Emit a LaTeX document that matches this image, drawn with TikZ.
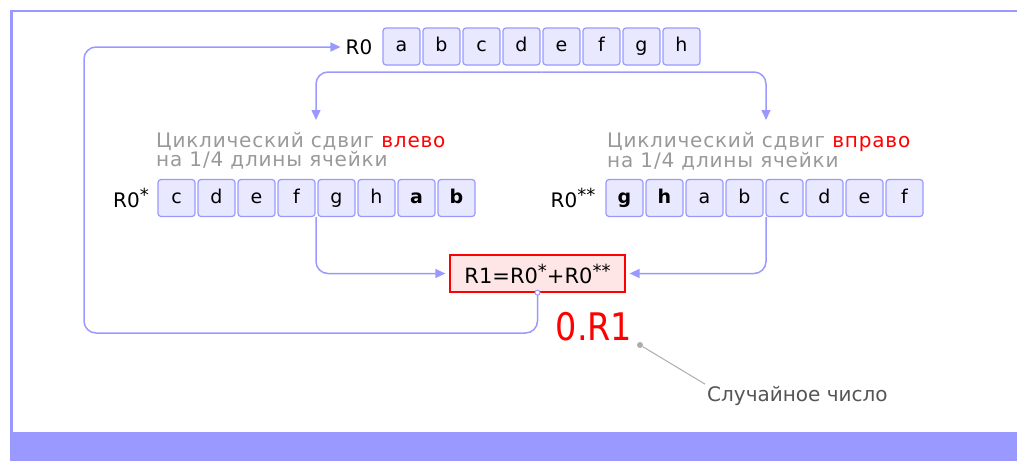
\documentclass[tikz,border=0pt]{standalone}
\usepackage{fontspec}
\setmainfont{DejaVu Sans}
\newfontfamily\spacedfont[LetterSpace=4]{DejaVu Sans}
\usetikzlibrary{arrows.meta}
\definecolor{frameblue}{HTML}{9999FF}
\definecolor{cellfill}{HTML}{E8E8FF}
\definecolor{linkblue}{HTML}{9999FF}
\definecolor{boxpink}{HTML}{FFE6E6}
\definecolor{notegray}{HTML}{999999}
\definecolor{textgray}{HTML}{555555}
\tikzset{
  cell/.style={draw=linkblue, fill=cellfill, rounded corners=3pt, line width=1.2pt,
    minimum width=37pt, minimum height=37pt, inner sep=0pt,
    text height=14pt, text depth=4pt,
    font=\fontsize{19}{21}\selectfont, text=black},
  reglabel/.style={font=\fontsize{20}{22}\selectfont, inner sep=0pt},
  link/.style={draw=linkblue, line width=1.5pt, rounded corners=12pt,
    -{Triangle[length=10pt,width=9pt]}},
  shifttext/.style={font=\spacedfont\fontsize{20}{19}\selectfont, text=notegray,
    align=left, inner sep=0pt, anchor=north west},
}
\newcommand{\sstar}[1]{\raisebox{6pt}{\fontsize{18}{18}\selectfont #1}}
\begin{document}
\begin{tikzpicture}[x=1pt,y=-1pt]
\useasboundingbox (0,0) rectangle (1017,461);
% frame
\fill[frameblue] (10,9.5) rectangle (1017,12);
\fill[frameblue] (10,9.5) rectangle (13,432);
\fill[frameblue] (10,432) rectangle (1017,461);

% top row
\node[reglabel] (r0lab) at (359,47) {R0};
\foreach \t [count=\i from 0] in {a,b,c,d,e,f,g,h}
  \node[cell] (t\i) at (401.5+40*\i,46.5) {\t};

% left row
\node[reglabel] (lrlab) at (131,198) {R0\sstar{*}};
\foreach \t [count=\i from 0] in {c,d,e,f,g,h,\textbf{a},\textbf{b}}
  \node[cell] (l\i) at (176.5+40*\i,198) {\t};

% right row
\node[reglabel] (rrlab) at (573,198) {R0\sstar{**}};
\foreach \t [count=\i from 0] in {\textbf{g},\textbf{h},a,b,c,d,e,f}
  \node[cell] (r\i) at (624.5+40*\i,198) {\t};

% shift texts
\node[shifttext] (ltext) at (156,132) {Циклический сдвиг \textcolor{red}{влево}\\на 1/4 длины ячейки};
\node[shifttext] (rtext) at (607,132) {Циклический сдвиг \textcolor{red}{вправо}\\на 1/4 длины ячейки};

% result box
\node[draw=red, fill=boxpink, line width=1.2pt, minimum width=175pt, minimum height=37pt,
  inner sep=0pt, font=\fontsize{21}{22}\selectfont] (r1) at (537.5,273.5) {R1=R0\sstar{*}+R0\sstar{**}};

% split connector from top row to both texts
\coordinate (split) at (541.5,72);
\coordinate (ltip) at (316,120);
\coordinate (rtip) at (766,120);
\draw[link] (split) -| (ltip);
\draw[link] (split) -| (rtip);

% rows to result
\coordinate (lstart) at (316,217);
\coordinate (rstart) at (766,217);
\draw[link, shorten >=4pt] (lstart) |- (r1.west);
\draw[link, shorten >=4pt] (rstart) |- (r1.east);

% feedback loop
\coordinate (lowy) at (0,333);
\coordinate (leftx) at (84,0);
\draw[link, shorten >=5pt] (r1.south) -- (r1.south |- lowy) -| (leftx |- r0lab.west) -- (r0lab.west);
\draw[linkblue, fill=white, line width=1pt] (r1.south) circle (2.5pt);

% random number
\node[text=red, inner sep=0pt, font=\fontsize{38}{40}\selectfont] (rnd) at (594,327) {\scalebox{0.88}[1]{0.R1}};
\node[circle, fill=notegray!80, inner sep=0pt, minimum size=6pt] (dot) at (640,345) {};
\node[text=textgray, anchor=west, inner sep=2pt, font=\fontsize{20}{22}\selectfont] (note) at (705,396) {Случайное число};
\draw[notegray!80, line width=1pt] (dot) -- (note.north west);
\end{tikzpicture}
\end{document}
